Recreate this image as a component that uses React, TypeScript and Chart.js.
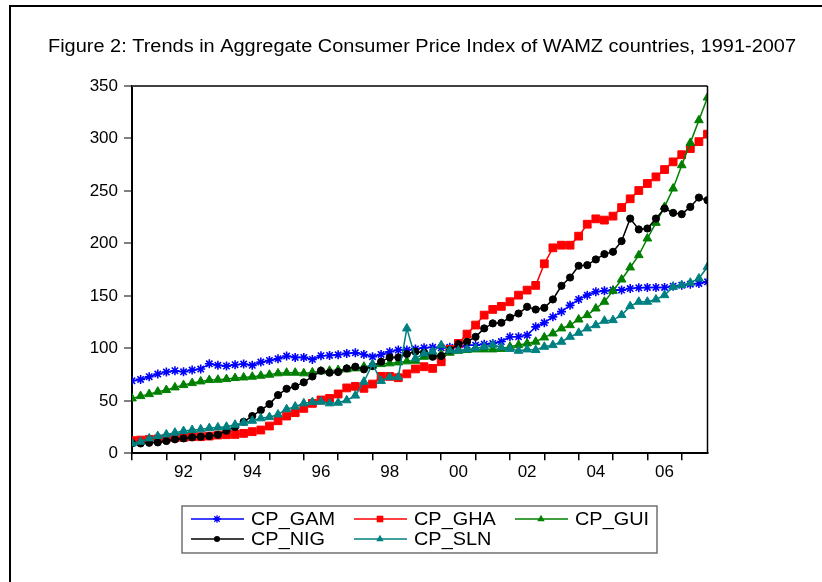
import React, { useEffect, useRef } from 'react';
import { Chart, registerables } from 'chart.js';

Chart.register(...registerables);

const TITLE = 'Figure 2: Trends in Aggregate Consumer Price Index of WAMZ countries, 1991-2007';
const FONT = '"Liberation Sans", Arial, sans-serif';

// quarterly observations 1991Q1 .. 2007Q4
const START_YEAR = 1991;
const END_YEAR = 2007;
const QUARTERS = 4;

// axis ticks
const Y_MIN = 0;
const Y_MAX = 350;
const Y_STEP = 50;
const xLabelYears = [1992, 1994, 1996, 1998, 2000, 2002, 2004, 2006];

// series names
const seriesNames = ['CP_GAM', 'CP_GHA', 'CP_GUI', 'CP_NIG', 'CP_SLN'];

const cpGAM = [
  69.1, 70.4, 73.0, 75.5, 77.4, 78.7, 77.7, 79.3, 80.3, 85.3, 83.8, 83.1, 84.4, 85.0, 83.8, 86.9,
  88.5, 90.1, 92.7, 91.4, 91.4, 89.5, 93.0, 93.3, 93.9, 95.2, 95.8, 94.2, 92.0, 94.2, 96.8, 98.4,
  98.4, 99.5, 100.5, 101.0, 100.5, 101.0, 100.9, 103.0, 103.0, 104.0, 104.7, 106.5, 111.0, 111.0, 112.6, 120.5,
  124.4, 130.0, 135.0, 141.0, 146.6, 150.7, 153.9, 154.8, 155.5, 155.5, 157.0, 157.7, 158.0, 158.0, 158.0, 159.3,
  160.2, 161.2, 161.8, 163.4,
];
const cpGHA = [
  12.0, 12.6, 13.3, 13.6, 14.2, 14.9, 15.2, 15.8, 15.8, 16.4, 17.4, 17.7, 18.0, 19.0, 20.6, 22.2,
  26.0, 31.0, 35.5, 38.7, 42.8, 47.6, 50.8, 52.3, 56.5, 62.3, 63.8, 61.9, 66.0, 73.3, 73.3, 72.0,
  75.7, 80.4, 82.5, 80.9, 87.2, 99.0, 104.7, 113.6, 122.2, 131.7, 137.1, 140.0, 144.4, 150.7, 155.5, 160.0,
  180.6, 195.8, 198.3, 198.3, 206.9, 218.3, 223.4, 222.2, 226.0, 234.2, 242.5, 250.4, 257.1, 263.4, 270.4, 277.7,
  284.5, 290.4, 297.0, 304.1,
];
const cpGUI = [
  52.3, 54.5, 56.4, 58.7, 60.3, 62.8, 65.0, 66.9, 68.5, 69.8, 70.1, 70.7, 71.7, 72.3, 73.0, 73.9,
  74.9, 76.2, 76.8, 76.8, 76.2, 77.1, 78.1, 78.7, 79.3, 80.0, 80.9, 82.5, 83.5, 85.0, 85.7, 86.6,
  87.6, 88.2, 92.0, 92.6, 94.5, 95.8, 97.7, 98.4, 99.0, 99.0, 99.0, 99.5, 101.5, 103.1, 104.7, 106.3,
  110.4, 114.2, 119.0, 122.1, 127.5, 131.7, 138.0, 144.4, 154.8, 165.6, 177.1, 188.8, 204.7, 219.6, 234.8, 252.3,
  274.5, 295.8, 317.4, 339.0,
];
const cpNIG = [
  9.4, 9.4, 10.0, 10.4, 11.7, 13.3, 14.2, 15.2, 15.8, 16.4, 17.7, 21.5, 25.0, 30.0, 35.5, 41.2,
  46.9, 55.5, 61.5, 63.8, 67.6, 73.2, 78.7, 76.8, 77.4, 80.9, 82.5, 80.0, 83.1, 87.3, 91.4, 91.4,
  94.6, 96.8, 95.8, 92.0, 92.6, 98.4, 104.0, 106.3, 111.0, 119.0, 123.8, 124.4, 129.4, 133.2, 139.6, 137.0,
  138.6, 146.6, 159.6, 167.5, 178.7, 179.3, 184.7, 189.8, 192.0, 202.2, 223.7, 213.3, 214.2, 223.7, 233.3, 229.1,
  227.9, 234.8, 243.7, 241.2,
];
const cpSLN = [
  9.4, 11.0, 14.2, 16.4, 18.0, 19.6, 21.2, 22.2, 22.8, 24.0, 24.7, 25.3, 27.2, 29.1, 31.0, 33.3,
  34.5, 37.0, 42.0, 44.5, 47.6, 48.8, 49.2, 47.6, 48.2, 50.5, 55.0, 68.2, 85.0, 69.0, 72.5, 72.5,
  119.0, 90.4, 95.0, 97.0, 103.0, 98.0, 98.0, 99.0, 100.0, 101.5, 103.5, 101.0, 99.5, 97.7, 99.0, 98.4,
  101.5, 103.1, 106.3, 111.0, 114.8, 119.0, 122.1, 126.3, 126.9, 131.7, 140.2, 144.4, 144.4, 146.6, 150.7, 158.6,
  160.2, 162.5, 166.6, 177.7,
];

const seriesValues = [cpGAM, cpGHA, cpGUI, cpNIG, cpSLN];
const seriesColors = ['#0000FF', '#FF0000', '#008000', '#000000', '#008080'];
const seriesPoints = ['star', 'rect', 'triangle', 'circle', 'triangle'];
const seriesRadius = [4.5, 5.5, 5, 3.6, 5];

const toPoints = (vals: number[]) =>
  vals.map((v, i) => ({ x: START_YEAR + i / QUARTERS, y: v }));

function drawMarker(ctx: CanvasRenderingContext2D, style: string, r: number, x: number, y: number) {
  ctx.beginPath();
  if (style === 'rect') {
    const s = r * Math.SQRT1_2;
    ctx.rect(x - s, y - s, 2 * s, 2 * s);
    ctx.fill();
  } else if (style === 'circle') {
    ctx.arc(x, y, r, 0, Math.PI * 2);
    ctx.fill();
  } else if (style === 'triangle') {
    ctx.moveTo(x, y - r);
    ctx.lineTo(x + r * Math.cos(Math.PI / 6), y + r / 2);
    ctx.lineTo(x - r * Math.cos(Math.PI / 6), y + r / 2);
    ctx.closePath();
    ctx.fill();
  } else if (style === 'star') {
    const d = r * Math.SQRT1_2;
    ctx.moveTo(x - r, y);
    ctx.lineTo(x + r, y);
    ctx.moveTo(x, y - r);
    ctx.lineTo(x, y + r);
    ctx.moveTo(x - d, y - d);
    ctx.lineTo(x + d, y + d);
    ctx.moveTo(x - d, y + d);
    ctx.lineTo(x + d, y - d);
    ctx.stroke();
  }
}

const framePlugin = {
  id: 'frame',
  beforeDraw(chart: any) {
    const ctx = chart.ctx;
    ctx.save();
    ctx.fillStyle = '#ffffff';
    ctx.fillRect(0, 0, chart.width, chart.height);
    ctx.strokeStyle = '#000000';
    ctx.lineWidth = 2;
    ctx.beginPath();
    ctx.moveTo(10, chart.height);
    ctx.lineTo(10, 6);
    ctx.lineTo(chart.width, 6);
    ctx.stroke();
    // title
    ctx.font = `17.5px ${FONT}`;
    ctx.fillStyle = '#000';
    ctx.textBaseline = 'middle';
    ctx.textAlign = 'center';
    const w = ctx.measureText(TITLE).width;
    const sx = 748 / w;
    ctx.translate(422, 47);
    ctx.scale(sx, 1);
    ctx.fillText(TITLE, 0, 0);
    ctx.restore();
  },
  afterDraw(chart: any) {
    const ctx = chart.ctx;
    const a = chart.chartArea;
    ctx.save();
    // top and right border of plot frame
    ctx.strokeStyle = '#404040';
    ctx.lineWidth = 2;
    ctx.beginPath();
    ctx.moveTo(a.left, a.top);
    ctx.lineTo(a.right, a.top);
    ctx.stroke();
    ctx.strokeStyle = '#000';
    ctx.lineWidth = 1.5;
    ctx.beginPath();
    ctx.moveTo(a.right, a.top);
    ctx.lineTo(a.right, a.bottom);
    ctx.stroke();

    // legend
    const bx = 182, by = 506, bw = 475, bh = 47;
    ctx.strokeStyle = '#707070';
    ctx.lineWidth = 1.5;
    ctx.strokeRect(bx, by, bw, bh);
    ctx.font = `17.5px ${FONT}`;
    const sx = 84 / ctx.measureText('CP_GAM').width;
    const colX = [191, 354, 515];
    const rowY = [519, 539];
    chart.data.datasets.forEach((ds: any, i: number) => {
      const col = i % 3;
      const row = Math.floor(i / 3);
      const x0 = colX[col];
      const y = rowY[row];
      ctx.strokeStyle = ds.borderColor;
      ctx.fillStyle = ds.backgroundColor;
      ctx.lineWidth = 1.5;
      ctx.beginPath();
      ctx.moveTo(x0, y);
      ctx.lineTo(x0 + 53, y);
      ctx.stroke();
      ctx.lineWidth = 1.3;
      drawMarker(ctx, ds.pointStyle, ds.pointRadius * 0.85, x0 + 26, y);
      ctx.save();
      ctx.fillStyle = '#000';
      ctx.textBaseline = 'middle';
      ctx.textAlign = 'left';
      ctx.translate(x0 + 60, y + 1);
      ctx.scale(sx, 1);
      ctx.fillText(ds.label, 0, 0);
      ctx.restore();
    });
    ctx.restore();
  },
};

export default function App() {
  const ref = useRef<HTMLCanvasElement | null>(null);
  useEffect(() => {
    if (!ref.current) return;
    const datasets = seriesNames.map((name, i) => ({
      label: name,
      data: toPoints(seriesValues[i]),
      borderColor: seriesColors[i],
      backgroundColor: seriesColors[i],
      pointBackgroundColor: seriesColors[i],
      pointBorderColor: seriesColors[i],
      pointStyle: seriesPoints[i],
      pointRadius: seriesRadius[i],
      pointBorderWidth: seriesPoints[i] === 'star' ? 1.6 : 1,
      borderWidth: 1.5,
      tension: 0,
      fill: false,
      order: seriesNames.length - i,
    }));
    const chart = new Chart(ref.current, {
      type: 'line',
      data: { datasets },
      options: {
        responsive: false,
        animation: false,
        events: [],
        layout: { padding: { left: 0, right: 114.5, top: 86, bottom: 88.7 } },
        plugins: {
          legend: { display: false },
          title: { display: false },
          tooltip: { enabled: false },
        },
        scales: {
          x: {
            type: 'linear',
            min: START_YEAR,
            max: END_YEAR + (QUARTERS - 1) / QUARTERS,
            afterBuildTicks: (axis: any) => {
              const t: any[] = [];
              for (let y = START_YEAR; y <= END_YEAR; y++) t.push({ value: y });
              xLabelYears.forEach((y) => t.push({ value: y + 0.5 }));
              t.sort((a, b) => a.value - b.value);
              axis.ticks = t;
            },
            afterFit: (s: any) => {
              s.height = 40;
            },
            grid: {
              drawOnChartArea: false,
              drawTicks: true,
              tickLength: 7,
              lineWidth: 1.5,
              tickColor: (c: any) =>
                c.tick && Number.isInteger(c.tick.value) ? '#000' : 'rgba(0,0,0,0)',
            },
            border: { display: true, color: '#000', width: 2 },
            ticks: {
              autoSkip: false,
              maxRotation: 0,
              minRotation: 0,
              padding: 2,
              color: '#000',
              font: { family: FONT, size: 17 },
              callback: (v: any) => {
                const n = Number(v);
                if (Number.isInteger(n)) return '';
                const yr = Math.floor(n);
                return String(yr % 100).padStart(2, '0');
              },
            },
          },
          y: {
            min: Y_MIN,
            max: Y_MAX,
            afterFit: (s: any) => {
              s.width = 132;
            },
            grid: {
              drawOnChartArea: false,
              drawTicks: true,
              tickLength: 8,
              lineWidth: 2,
              tickColor: '#808080',
            },
            border: { display: true, color: '#000', width: 2 },
            ticks: {
              stepSize: Y_STEP,
              padding: 6,
              color: '#000',
              font: { family: FONT, size: 17 },
            },
          },
        },
      },
      plugins: [framePlugin],
    } as any);
    return () => chart.destroy();
  }, []);
  return (
    <div style={{ position: 'fixed', left: 0, top: 0, width: 822, height: 582, background: '#fff' }}>
      <canvas ref={ref} width={822} height={582} style={{ display: 'block' }} />
    </div>
  );
}
